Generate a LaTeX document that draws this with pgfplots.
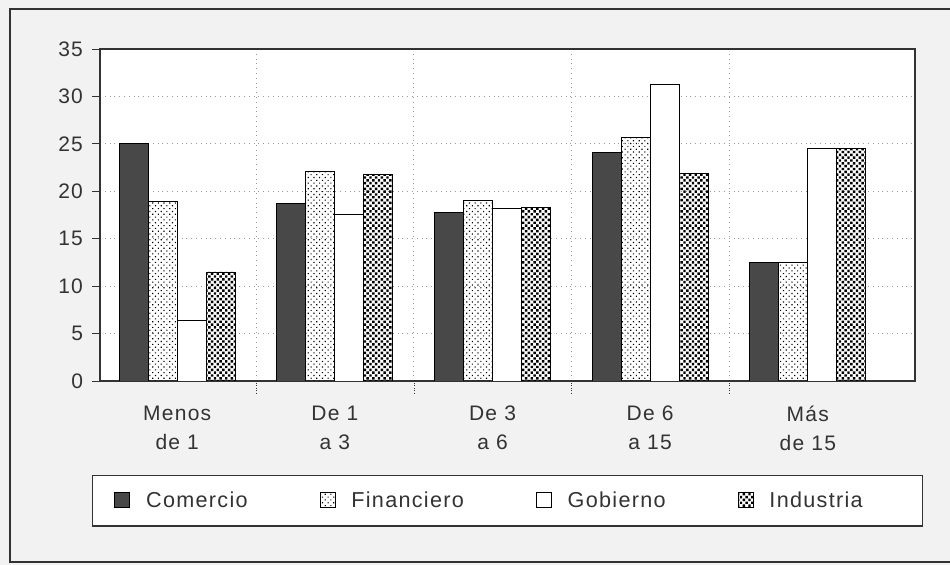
\documentclass[border=0pt]{standalone}
\usepackage{pgfplots}
\usepackage{pgfplotstable}
\pgfplotsset{compat=1.18}
\usepackage{fontspec}
\setmainfont{Liberation Sans}[LetterSpace=6]
\usetikzlibrary{patterns.meta}

\definecolor{paper}{HTML}{F2F2F2}
\definecolor{darkbar}{HTML}{484848}
\definecolor{ink}{HTML}{333333}

% tiempo (anios) por sector
\pgfplotstableread{
cat com fin gob ind
0 25.0 18.9 6.4 11.5
1 18.7 22.1 17.6 21.8
2 17.8 19.0 18.2 18.3
3 24.1 25.7 31.3 21.9
4 12.5 12.5 24.5 24.5
}\datatable

\pgfplotsset{sq legend/.style={legend image code/.code={%
    \draw[##1, line width=0.4pt] (0pt,-3.2pt) rectangle (7.5pt,4.3pt);}}}

\begin{document}
\begin{tikzpicture}
\fill[paper] (0,0) rectangle (475pt,282.5pt);
\useasboundingbox (0,0) rectangle (475pt,282.5pt);
\draw[ink, line width=1pt] (480pt,1.5pt) -- (5pt,1.5pt) -- (5pt,278pt) -- (480pt,278pt);
\begin{axis}[
    at={(50pt,92pt)}, anchor=south west,
    width=407.5pt, height=166pt, scale only axis,
    axis background/.style={fill=white},
    ybar=0pt, bar width=14.5pt,
    xmin=-0.49, xmax=4.68, ymin=0, ymax=35,
    xtick={0,...,4},
    xticklabels={{Menos\\de 1},{De 1\\a 3},{De 3\\a 6},{De 6\\a 15},{Más\\de 15}},
    minor xtick={0.5,1.5,2.5,3.5},
    ytick={0,5,...,35},
    xtick pos=bottom, ytick pos=left,
    tick align=outside,
    major tick length=4pt, minor tick length=6pt,
    major x tick style={draw=none},
    minor x tick style={densely dotted, ink},
    y tick style={ink, line width=0.4pt},
    ymajorgrids, xminorgrids,
    major grid style={dotted, gray!80},
    minor grid style={dotted, gray!80},
    axis line style={ink, line width=0.8pt},
    tick label style={font=\fontsize{10.5}{14.5}\selectfont, text=ink},
    /pgf/number format/assume math mode=true,
    xticklabel style={align=center, yshift=-5pt},
    yticklabel style={xshift=-1pt},
    legend style={at={(0.5,-0.361)}, anchor=center, legend columns=4,
        draw=ink, line width=0.8pt, fill=white,
        inner xsep=11pt, inner ysep=6pt,
        font=\fontsize{10.8}{13}\selectfont, text=ink,
        /tikz/every odd column/.append style={column sep=6pt},
        /tikz/every even column/.append style={column sep=34pt}},
    legend cell align=left,
]
\addplot[draw=black, fill=darkbar, sq legend] table[x=cat, y=com]{\datatable};
\addplot[draw=black, pattern={Dots[distance=2pt, radius=0.4pt, angle=45]}, pattern color=black, sq legend] table[x=cat, y=fin]{\datatable};
\addplot[draw=black, fill=white, sq legend] table[x=cat, y=gob]{\datatable};
\addplot[draw=black, pattern={Dots[distance=2pt, radius=0.85pt, angle=45]}, pattern color=black, sq legend] table[x=cat, y=ind]{\datatable};
\addlegendentry{Comercio}
\addlegendentry{Financiero}
\addlegendentry{Gobierno}
\addlegendentry{Industria\kern17pt}
\end{axis}
\end{tikzpicture}
\end{document}
